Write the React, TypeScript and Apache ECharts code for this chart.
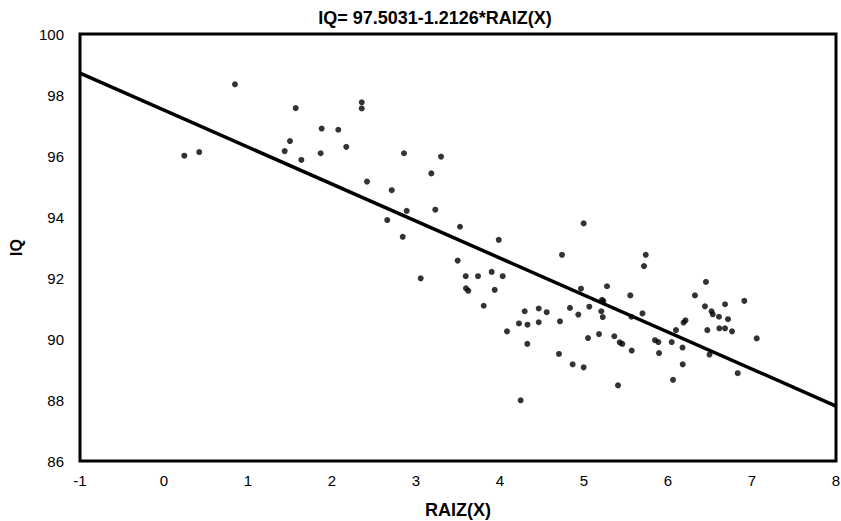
import React, { useEffect, useRef } from "react";
import * as echarts from "echarts";

// RAIZ(X) values of the observations
const raizX = [
  0.242, 0.42, 0.845, 1.568, 1.877, 1.5, 1.437, 1.865, 1.635, 2.075,
  2.17, 2.354, 2.354, 2.857, 3.298, 3.182, 2.417, 2.711, 2.889, 3.23,
  2.658, 2.842, 3.524, 3.985, 3.496, 3.056, 3.592, 3.738, 3.901, 4.032,
  3.595, 3.623, 3.937, 3.806, 4.461, 4.294, 4.556, 4.226, 4.327, 4.461,
  4.714, 4.083, 4.325, 4.246, 4.996, 4.738, 5.735, 5.714, 4.964, 5.274,
  5.551, 5.214, 5.23, 4.833, 5.063, 4.932, 5.206, 5.223, 5.696, 5.565,
  5.048, 5.179, 5.361, 5.425, 5.456, 5.568, 4.702, 4.865, 4.996, 5.405,
  5.845, 5.885, 5.893, 6.044, 6.095, 6.185, 6.208, 6.173, 6.175, 6.06,
  6.321, 6.452, 6.44, 6.518, 6.533, 6.607, 6.679, 6.714, 6.468, 6.611,
  6.679, 6.762, 6.908, 7.056, 6.494, 6.83,
];

// IQ values of the observations
const iq = [
  96.01, 96.13, 98.35, 97.57, 96.9, 96.49, 96.16, 96.09, 95.87, 96.86,
  96.3, 97.76, 97.56, 96.09, 95.98, 95.43, 95.16, 94.88, 94.2, 94.24,
  93.9, 93.35, 93.68, 93.25, 92.57, 91.99, 92.06, 92.06, 92.2, 92.06,
  91.66, 91.58, 91.61, 91.09, 91.0, 90.91, 90.88, 90.51, 90.47, 90.55,
  90.58, 90.25, 89.84, 87.99, 93.79, 92.76, 92.76, 92.39, 91.65, 91.73,
  91.43, 91.28, 91.24, 91.02, 91.06, 90.8, 90.91, 90.72, 90.84, 90.73,
  90.03, 90.16, 90.09, 89.89, 89.84, 89.62, 89.51, 89.17, 89.07, 88.48,
  89.96, 89.9, 89.54, 89.9, 90.29, 90.54, 90.61, 89.72, 89.17, 88.66,
  91.43, 91.87, 91.07, 90.91, 90.81, 90.73, 91.14, 90.65, 90.29, 90.35,
  90.35, 90.25, 91.25, 90.02, 89.49, 88.88,
];

// Fitted line: IQ = 97.5031 - 1.2126 * RAIZ(X)
const intercept = 97.5031;
const slope = -1.2126;
const lineX = [-1, 8];

const titleText = "IQ= 97.5031-1.2126*RAIZ(X)";
const xName = "RAIZ(X)";
const yName = "IQ";

const FONT = "'Liberation Sans', Arial, sans-serif";

export default function App() {
  const ref = useRef<HTMLDivElement>(null);

  useEffect(() => {
    document.body.style.margin = "0";
    if (!ref.current) return;
    const chart = echarts.init(ref.current, undefined, { renderer: "svg" });
    const points = raizX.map((x, i) => [x, iq[i]]);
    const linePts = lineX.map((x) => [x, intercept + slope * x]);
    chart.setOption({
      animation: false,
      backgroundColor: "#fff",
      title: {
        text: titleText,
        left: 430,
        top: 4,
        textAlign: "center",
        textStyle: { fontFamily: FONT, fontSize: 18, fontWeight: "bold", color: "#000" },
      },
      grid: {
        left: 80,
        right: 5,
        top: 34,
        bottom: 60,
        outerBoundsMode: "none",
        containLabel: false,
        show: true,
        borderColor: "#000",
        borderWidth: 3,
        backgroundColor: "#fff",
      },
      xAxis: {
        type: "value",
        min: -1,
        max: 8,
        interval: 1,
        name: xName,
        nameLocation: "middle",
        nameGap: 40,
        nameTextStyle: { fontFamily: FONT, fontSize: 18, fontWeight: "bold", color: "#000" },
        axisLine: { show: false },
        axisTick: { show: false },
        splitLine: { show: false },
        axisLabel: { fontFamily: FONT, fontSize: 15, color: "#000", margin: 12 },
      },
      yAxis: {
        type: "value",
        min: 86,
        max: 100,
        interval: 2,
        name: yName,
        nameLocation: "middle",
        nameGap: 56,
        nameTextStyle: { fontFamily: FONT, fontSize: 16, fontWeight: "bold", color: "#000" },
        axisLine: { show: false },
        axisTick: { show: false },
        splitLine: { show: false },
        axisLabel: { fontFamily: FONT, fontSize: 15, color: "#000", margin: 16 },
      },
      series: [
        {
          type: "scatter",
          data: points,
          symbol: "circle",
          symbolSize: 6,
          itemStyle: { color: "#000" },
          silent: true,
        },
        {
          type: "line",
          data: linePts,
          symbol: "none",
          lineStyle: { color: "#000", width: 3.5 },
          silent: true,
        },
      ],
    });
    return () => chart.dispose();
  }, []);

  return <div ref={ref} style={{ width: 841, height: 521 }} />;
}
